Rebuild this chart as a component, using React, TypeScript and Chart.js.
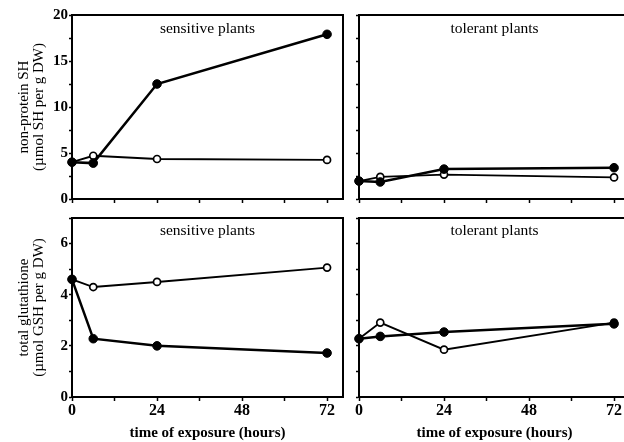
import React, { useEffect, useRef } from 'react';
import { Chart, registerables } from 'chart.js';

Chart.register(...registerables);

// ---- data ----
const hours = [0, 6, 24, 72];

// non-protein SH (µmol SH per g DW)
const shSensitiveFilled = [4.0, 3.9, 12.5, 17.9];
const shSensitiveOpen = [4.0, 4.7, 4.35, 4.25];
const shTolerantFilled = [1.95, 1.85, 3.25, 3.4];
const shTolerantOpen = [1.95, 2.4, 2.65, 2.35];

// total glutathione (µmol GSH per g DW)
const gshSensitiveFilled = [4.6, 2.28, 2.0, 1.72];
const gshSensitiveOpen = [4.6, 4.3, 4.5, 5.06];
const gshTolerantFilled = [2.28, 2.37, 2.54, 2.86];
const gshTolerantOpen = [2.28, 2.91, 1.85, 2.91];

const xTitle = 'time of exposure (hours)';
const shTitle = ['non-protein SH', '(µmol SH per g DW)'];
const gshTitle = ['total glutathione', '(µmol GSH per g DW)'];
const sensitiveLabel = 'sensitive plants';
const tolerantLabel = 'tolerant plants';

const SERIF = '"Liberation Serif", "DejaVu Serif", "Times New Roman", serif';
const CW = 640;
const CH = 442;

const panelPlugin = {
  id: 'panelDecor',
  afterDraw(chart: any) {
    const { ctx, chartArea: a } = chart;
    const o = chart.options.plugins.panelDecor;
    ctx.save();
    ctx.strokeStyle = '#000';
    ctx.lineWidth = 2;
    ctx.beginPath();
    ctx.moveTo(a.left, a.top);
    ctx.lineTo(a.right, a.top);
    ctx.lineTo(a.right, a.bottom);
    ctx.stroke();
    ctx.fillStyle = '#000';
    ctx.font = `15.5px ${SERIF}`;
    ctx.textAlign = 'center';
    ctx.textBaseline = 'middle';
    ctx.fillText(o.text, (a.left + a.right) / 2, a.top + o.dy);
    ctx.restore();
  },
};

type Panel = {
  filled: number[];
  open: number[];
  yMax: number;
  yStep: number;
  yLabelStep: number;
  yTitle: string[] | null;
  showX: boolean;
  label: string;
  padding: { left: number; right: number; top: number; bottom: number };
  xh: number;
  titleDy: number;
};

const panels: Panel[] = [
  {
    filled: shSensitiveFilled, open: shSensitiveOpen, yMax: 20, yStep: 2.5, yLabelStep: 5,
    yTitle: shTitle, showX: false, label: sensitiveLabel,
    padding: { left: 0, right: CW - 343, top: 15, bottom: CH - 199 - 10 }, xh: 10, titleDy: 14,
  },
  {
    filled: shTolerantFilled, open: shTolerantOpen, yMax: 20, yStep: 2.5, yLabelStep: 5,
    yTitle: null, showX: false, label: tolerantLabel,
    padding: { left: 287, right: CW - 630, top: 15, bottom: CH - 199 - 10 }, xh: 10, titleDy: 14,
  },
  {
    filled: gshSensitiveFilled, open: gshSensitiveOpen, yMax: 7, yStep: 1, yLabelStep: 2,
    yTitle: gshTitle, showX: true, label: sensitiveLabel,
    padding: { left: 0, right: CW - 343, top: 218, bottom: 0 }, xh: 45, titleDy: 13,
  },
  {
    filled: gshTolerantFilled, open: gshTolerantOpen, yMax: 7, yStep: 1, yLabelStep: 2,
    yTitle: null, showX: true, label: tolerantLabel,
    padding: { left: 287, right: CW - 630, top: 218, bottom: 0 }, xh: 45, titleDy: 13,
  },
];

function makeConfig(p: Panel): any {
  const toPts = (vals: number[]) => hours.map((h, i) => ({ x: h, y: vals[i] }));
  return {
    type: 'line',
    data: {
      datasets: [
        {
          data: toPts(p.filled),
          borderColor: '#000',
          borderWidth: 2.5,
          pointRadius: 4.3,
          pointBackgroundColor: '#000',
          pointBorderColor: '#000',
          pointBorderWidth: 1,
          tension: 0,
          clip: false,
        },
        {
          data: toPts(p.open),
          borderColor: '#000',
          borderWidth: 1.9,
          pointRadius: 3.5,
          pointBackgroundColor: '#fff',
          pointBorderColor: '#000',
          pointBorderWidth: 1.7,
          tension: 0,
          clip: false,
        },
      ],
    },
    options: {
      responsive: false,
      animation: false,
      events: [],
      layout: { padding: p.padding },
      plugins: {
        legend: { display: false },
        tooltip: { enabled: false },
        panelDecor: { text: p.label, dy: p.titleDy },
      },
      scales: {
        x: {
          type: 'linear',
          min: 0,
          max: 76.5,
          ticks: {
            stepSize: 12,
            includeBounds: false,
            autoSkip: false,
            maxRotation: 0,
            padding: 0,
            color: '#000',
            font: { family: SERIF, size: 16, weight: 'bold' },
            callback: (v: number) => (p.showX && v % 24 === 0 ? String(v) : ''),
          },
          grid: { drawOnChartArea: false, drawTicks: true, tickLength: 4, tickColor: '#000', tickWidth: 1.5 },
          border: { display: true, color: '#000', width: 2 },
          title: {
            display: p.showX,
            text: xTitle,
            color: '#000',
            font: { family: SERIF, size: 15, weight: 'bold' },
            padding: { top: 0, bottom: 0 },
          },
          afterFit: (s: any) => { s.height = p.xh; },
        },
        y: {
          type: 'linear',
          min: 0,
          max: p.yMax,
          ticks: {
            stepSize: p.yStep,
            includeBounds: false,
            autoSkip: false,
            padding: 1,
            color: '#000',
            font: { family: SERIF, size: 15, weight: 'bold' },
            callback: (v: number) => (p.yTitle && Math.abs(v % p.yLabelStep) < 1e-9 ? String(v) : ''),
          },
          grid: { drawOnChartArea: false, drawTicks: true, tickLength: 3, tickColor: '#000', tickWidth: 1.5 },
          border: { display: true, color: '#000', width: 2 },
          title: {
            display: !!p.yTitle,
            text: p.yTitle || '',
            color: '#000',
            font: { family: SERIF, size: 15, lineHeight: 1.0 },
            padding: { top: 16.5, bottom: 0 },
          },
          afterFit: (s: any) => { s.width = 72; },
        },
      },
    },
    plugins: [panelPlugin],
  };
}

function PanelCanvas({ panel }: { panel: Panel }) {
  const ref = useRef<HTMLCanvasElement>(null);
  useEffect(() => {
    if (!ref.current) return;
    const chart = new Chart(ref.current, makeConfig(panel));
    return () => chart.destroy();
  }, [panel]);
  return (
    <canvas
      ref={ref}
      width={CW}
      height={CH}
      style={{ position: 'absolute', left: 0, top: 0, width: CW, height: CH }}
    />
  );
}

export default function App() {
  return (
    <div
      style={{
        position: 'fixed',
        left: 0,
        top: 0,
        width: 624,
        height: 442,
        overflow: 'hidden',
        background: '#fff',
      }}
    >
      {panels.map((p, i) => (
        <PanelCanvas key={i} panel={p} />
      ))}
    </div>
  );
}
